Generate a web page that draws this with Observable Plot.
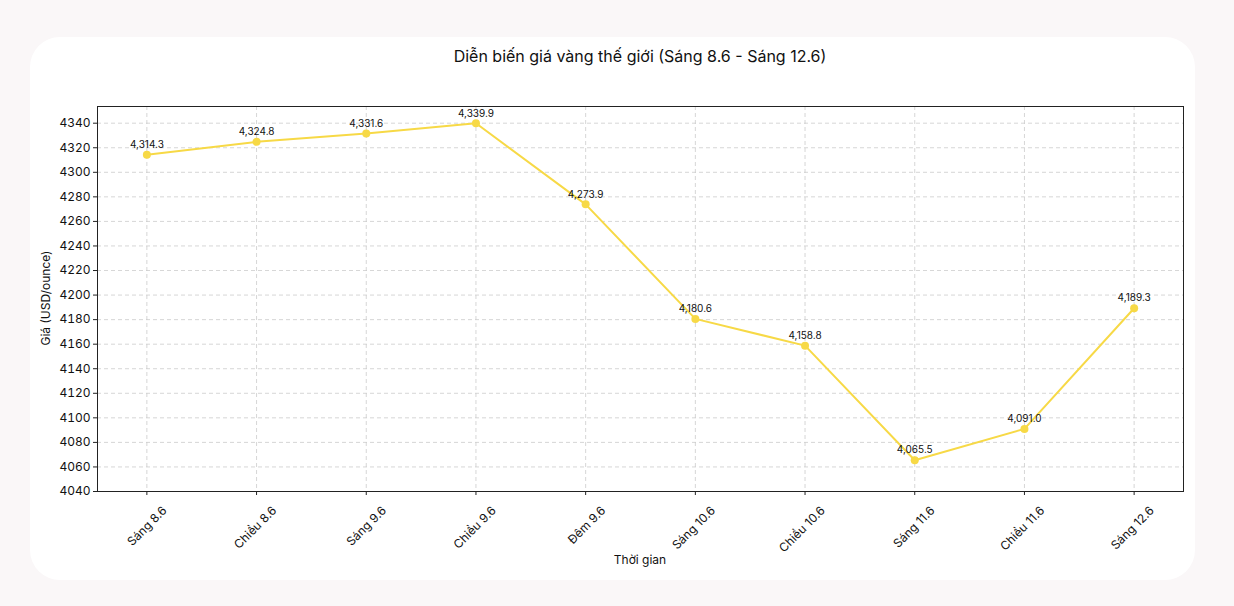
<!DOCTYPE html>
<html>
<head>
<meta charset="utf-8">
<script src="https://cdn.jsdelivr.net/npm/d3@7"></script>
<script src="https://cdn.jsdelivr.net/npm/@observablehq/plot@0.6"></script>
<style>
  html, body { margin: 0; padding: 0; }
  body { width: 1234px; height: 606px; background: #faf7f8; position: relative; overflow: hidden; font-family: Inter, "Open Sans", sans-serif; }
  #card { position: absolute; left: 30px; top: 37px; width: 1165px; height: 543px; background: #ffffff; border-radius: 30px; }
  #title { position: absolute; left: 0; width: 1280px; top: 46px; text-align: center; font-size: 16px; color: #111; }
  #chart { position: absolute; left: 0; top: 0; }
  #xlabel { position: absolute; left: 540px; width: 200px; top: 552px; text-align: center; font-size: 12px; color: #111; }
  #ylabel { position: absolute; left: 45px; top: 298px; font-size: 12px; color: #111; transform: translate(-50%, -50%) rotate(-90deg); white-space: nowrap; }
</style>
</head>
<body>
<div id="card"></div>
<div id="chart"></div>
<div id="title">Diễn biến giá vàng thế giới (Sáng 8.6 - Sáng 12.6)</div>
<div id="xlabel">Thời gian</div>
<div id="ylabel">Giá (USD/ounce)</div>
<script>
const categories = ["Sáng 8.6", "Chiều 8.6", "Sáng 9.6", "Chiều 9.6", "Đêm 9.6", "Sáng 10.6", "Chiều 10.6", "Sáng 11.6", "Chiều 11.6", "Sáng 12.6"];
const prices = [4314.3, 4324.8, 4331.6, 4339.9, 4273.9, 4180.6, 4158.8, 4065.5, 4091.0, 4189.3];
const yTicks = d3.range(4040, 4341, 20);

const data = categories.map((c, i) => ({i, label: c, price: prices[i]}));
const fmt = d3.format(",.1f");
const yellow = "#f7d946";

const plot = Plot.plot({
  width: 1234,
  height: 606,
  marginLeft: 97,
  marginRight: 51,
  marginTop: 106,
  marginBottom: 115,
  style: { background: "transparent", fontFamily: "Inter, 'Open Sans', sans-serif", color: "#111" },
  x: { type: "linear", domain: [-0.45, categories.length - 1 + 0.45], axis: null },
  y: { domain: [4040, 4353.6], axis: null },
  marks: [
    Plot.ruleY(yTicks, { y: d => d, stroke: "#cccccc", strokeDasharray: "4,3", strokeWidth: 0.8 }),
    Plot.ruleX(data, { x: "i", stroke: "#cccccc", strokeDasharray: "4,3", strokeWidth: 0.8 }),
    Plot.frame({ stroke: "#222", strokeWidth: 1 }),
    Plot.axisY({ ticks: yTicks, tickSize: 4, tickPadding: 3, fontSize: 12, label: null, tickFormat: d => String(d), stroke: "#222" }),
    Plot.axisX({ ticks: d3.range(categories.length), tickSize: 4, tickFormat: () => "", label: null, stroke: "#222" }),
    Plot.text(data, { x: "i", frameAnchor: "bottom", text: "label", rotate: -45, textAnchor: "end", lineAnchor: "middle", dx: 18, dy: 17, fontSize: 12, fill: "#111" }),
    Plot.line(data, { x: "i", y: "price", stroke: yellow, strokeWidth: 2 }),
    Plot.dot(data, { x: "i", y: "price", fill: yellow, r: 4 }),
    Plot.text(data, { x: "i", y: "price", text: d => fmt(d.price), dy: -10, fontSize: 10, fill: "#111" })
  ]
});
document.getElementById("chart").appendChild(plot);
</script>
</body>
</html>
